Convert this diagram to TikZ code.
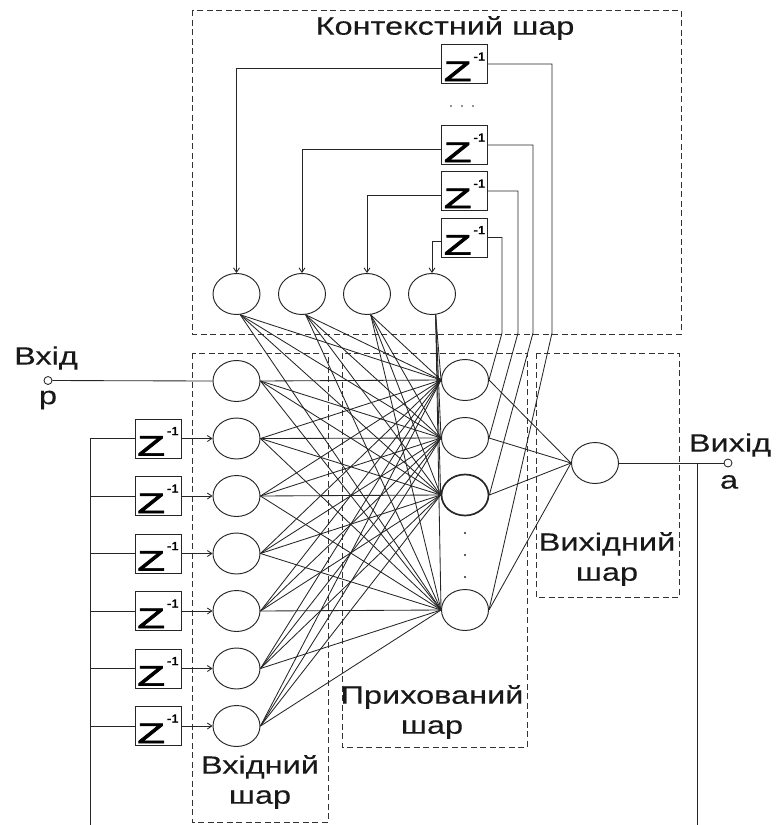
\documentclass[tikz,border=0pt]{standalone}
\usepackage{fontspec}
\setmainfont{Liberation Sans}[FakeStretch=1.3,FakeBold=0.2]
\newfontfamily\zfont{Liberation Sans}[FakeBold=2]
\usetikzlibrary{arrows.meta,shapes.geometric}
% delay element label: wide Z with a raised -1
\newcommand\zinv{{\zfont\fontsize{28}{28}\selectfont\scalebox{1.62}[1]{Z}\hspace{2pt}\raisebox{20.5pt}{\fontsize{11.5}{11.5}\selectfont\scalebox{1.15}[1]{-1}}}}
\begin{document}
\begin{tikzpicture}[x=1pt,y=-1pt,
  neuron/.style={ellipse, draw=black!85, line width=0.95pt, minimum width=47pt, minimum height=41pt, inner sep=0pt},
  zbox/.style={rectangle, draw=black!85, line width=1pt, minimum width=46pt, minimum height=39pt, inner sep=0pt, text height=34pt, text depth=0pt},
  layerbox/.style={draw=black!80, line width=1pt, dash pattern=on 6pt off 3.5pt},
  link/.style={draw=black!85, line width=0.85pt},
  arr/.style={link, -{Straight Barb[length=4.5pt,width=6pt]}},
  lbl/.style={text=black!90, font=\fontsize{25}{30}\selectfont, align=center, inner sep=0pt},
  pin/.style={circle, draw=black!85, fill=white, line width=0.85pt, minimum size=8pt, inner sep=0pt},
  dot/.style={circle, fill=black!85, minimum size=2.4pt, inner sep=0pt}]
\useasboundingbox (0,0) rectangle (779,825);

% layer frames
\draw[layerbox] (192,10) rectangle (681,334);
\draw[layerbox] (192,353) rectangle (328,822);
\draw[layerbox] (342,353) rectangle (527,747);
\draw[layerbox] (536,353) rectangle (679,597);

% input layer
\foreach \k in {1,...,7}
  \node[neuron] (i\k) at (236.5,{381+(\k-1)*57.5}) {};
% hidden layer
\node[neuron] (h1) at (465,380) {};
\node[neuron] (h2) at (465,438) {};
\node[neuron, line width=1.7pt] (h3) at (465,495) {};
\node[neuron] (h4) at (465,610) {};
\node[dot] (hd1) at (465,533) {};
\node[dot] (hd2) at (465,555) {};
\node[dot] (hd3) at (465,577) {};
% context layer
\node[neuron] (c1) at (236.5,294) {};
\node[neuron] (c2) at (302,294) {};
\node[neuron] (c3) at (367,294) {};
\node[neuron] (c4) at (432,294) {};
% output layer
\node[neuron] (o) at (595,463) {};

% context delay elements
\node[zbox] (cz1) at (464.5,64) {\zinv};
\node[zbox] (cz2) at (464.5,145) {\zinv};
\node[zbox] (cz3) at (464.5,191) {\zinv};
\node[zbox] (cz4) at (464.5,237.5) {\zinv};
\node[dot, minimum size=1.8pt] (cd1) at (451,106) {};
\node[dot, minimum size=1.8pt] (cd2) at (462,106) {};
\node[dot, minimum size=1.8pt] (cd3) at (473,106) {};

% input tapped delay line
\foreach \k in {2,...,7}
  \node[zbox] (d\k) at (158,{381+(\k-1)*57.5}) {\zinv};

% full connections
\foreach \a in {1,...,7}
  \foreach \b in {1,...,4}
    \draw[link] (i\a.east) -- (h\b.west);
\foreach \a in {1,...,4}
  \foreach \b in {1,...,4}
    \draw[link] (c\a.-80) -- (h\b.west);
\foreach \b in {1,...,4}
  \draw[link] (h\b.east) -- (o.west);

% hidden outputs fed back through the context delays
\coordinate (k1) at (502,333);
\coordinate (k2) at (518,333);
\coordinate (k3) at (533,333);
\coordinate (k4) at (552,333);
\draw[link] (h1.east) -- (k1) |- (cz4.east);
\draw[link] (h2.east) -- (k2) |- (cz3.east);
\draw[link] (h3.east) -- (k3) |- (cz2.east);
\draw[link] (h4.east) -- (k4) |- (cz1.east);
\foreach \k in {1,...,4}
  \draw[arr] ([yshift=-4pt]cz\k.west) -| (c\k.north);

% network input
\node[pin] (pin) at (48,380.5) {};
\draw[link] (pin) -- (i1.west);
\node[lbl] (tin) at (46,358) {Вхід};
\node[lbl] (tp) at (48,400) {p};

% delayed inputs
\coordinate (bustop) at (90,438.5);
\coordinate (busbot) at (90,825);
\draw[link] (bustop) -- (busbot);
\foreach \k in {2,...,7} {
  \draw[link] (d\k.west -| bustop) -- (d\k.west);
  \draw[arr] (d\k.east) -- (i\k.west);
}

% network output
\node[pin] (opin) at (728,463) {};
\draw[link] (o.east) -- (opin);
\coordinate (br) at (697,463);
\coordinate (brbot) at (697,825);
\draw[link] (br) -- (brbot);
\node[lbl] (tout) at (730,445) {Вихід};
\node[lbl] (ta) at (729,482) {a};

% layer captions
\node[lbl] (tctx) at (445,28) {Контекстний шар};
\node[lbl] (tinl) at (260,782) {Вхідний\\шар};
\node[lbl] (thid) at (432,712) {Прихований\\шар};
\node[lbl] (toutl) at (607,559) {Вихідний\\шар};
\end{tikzpicture}
\end{document}
